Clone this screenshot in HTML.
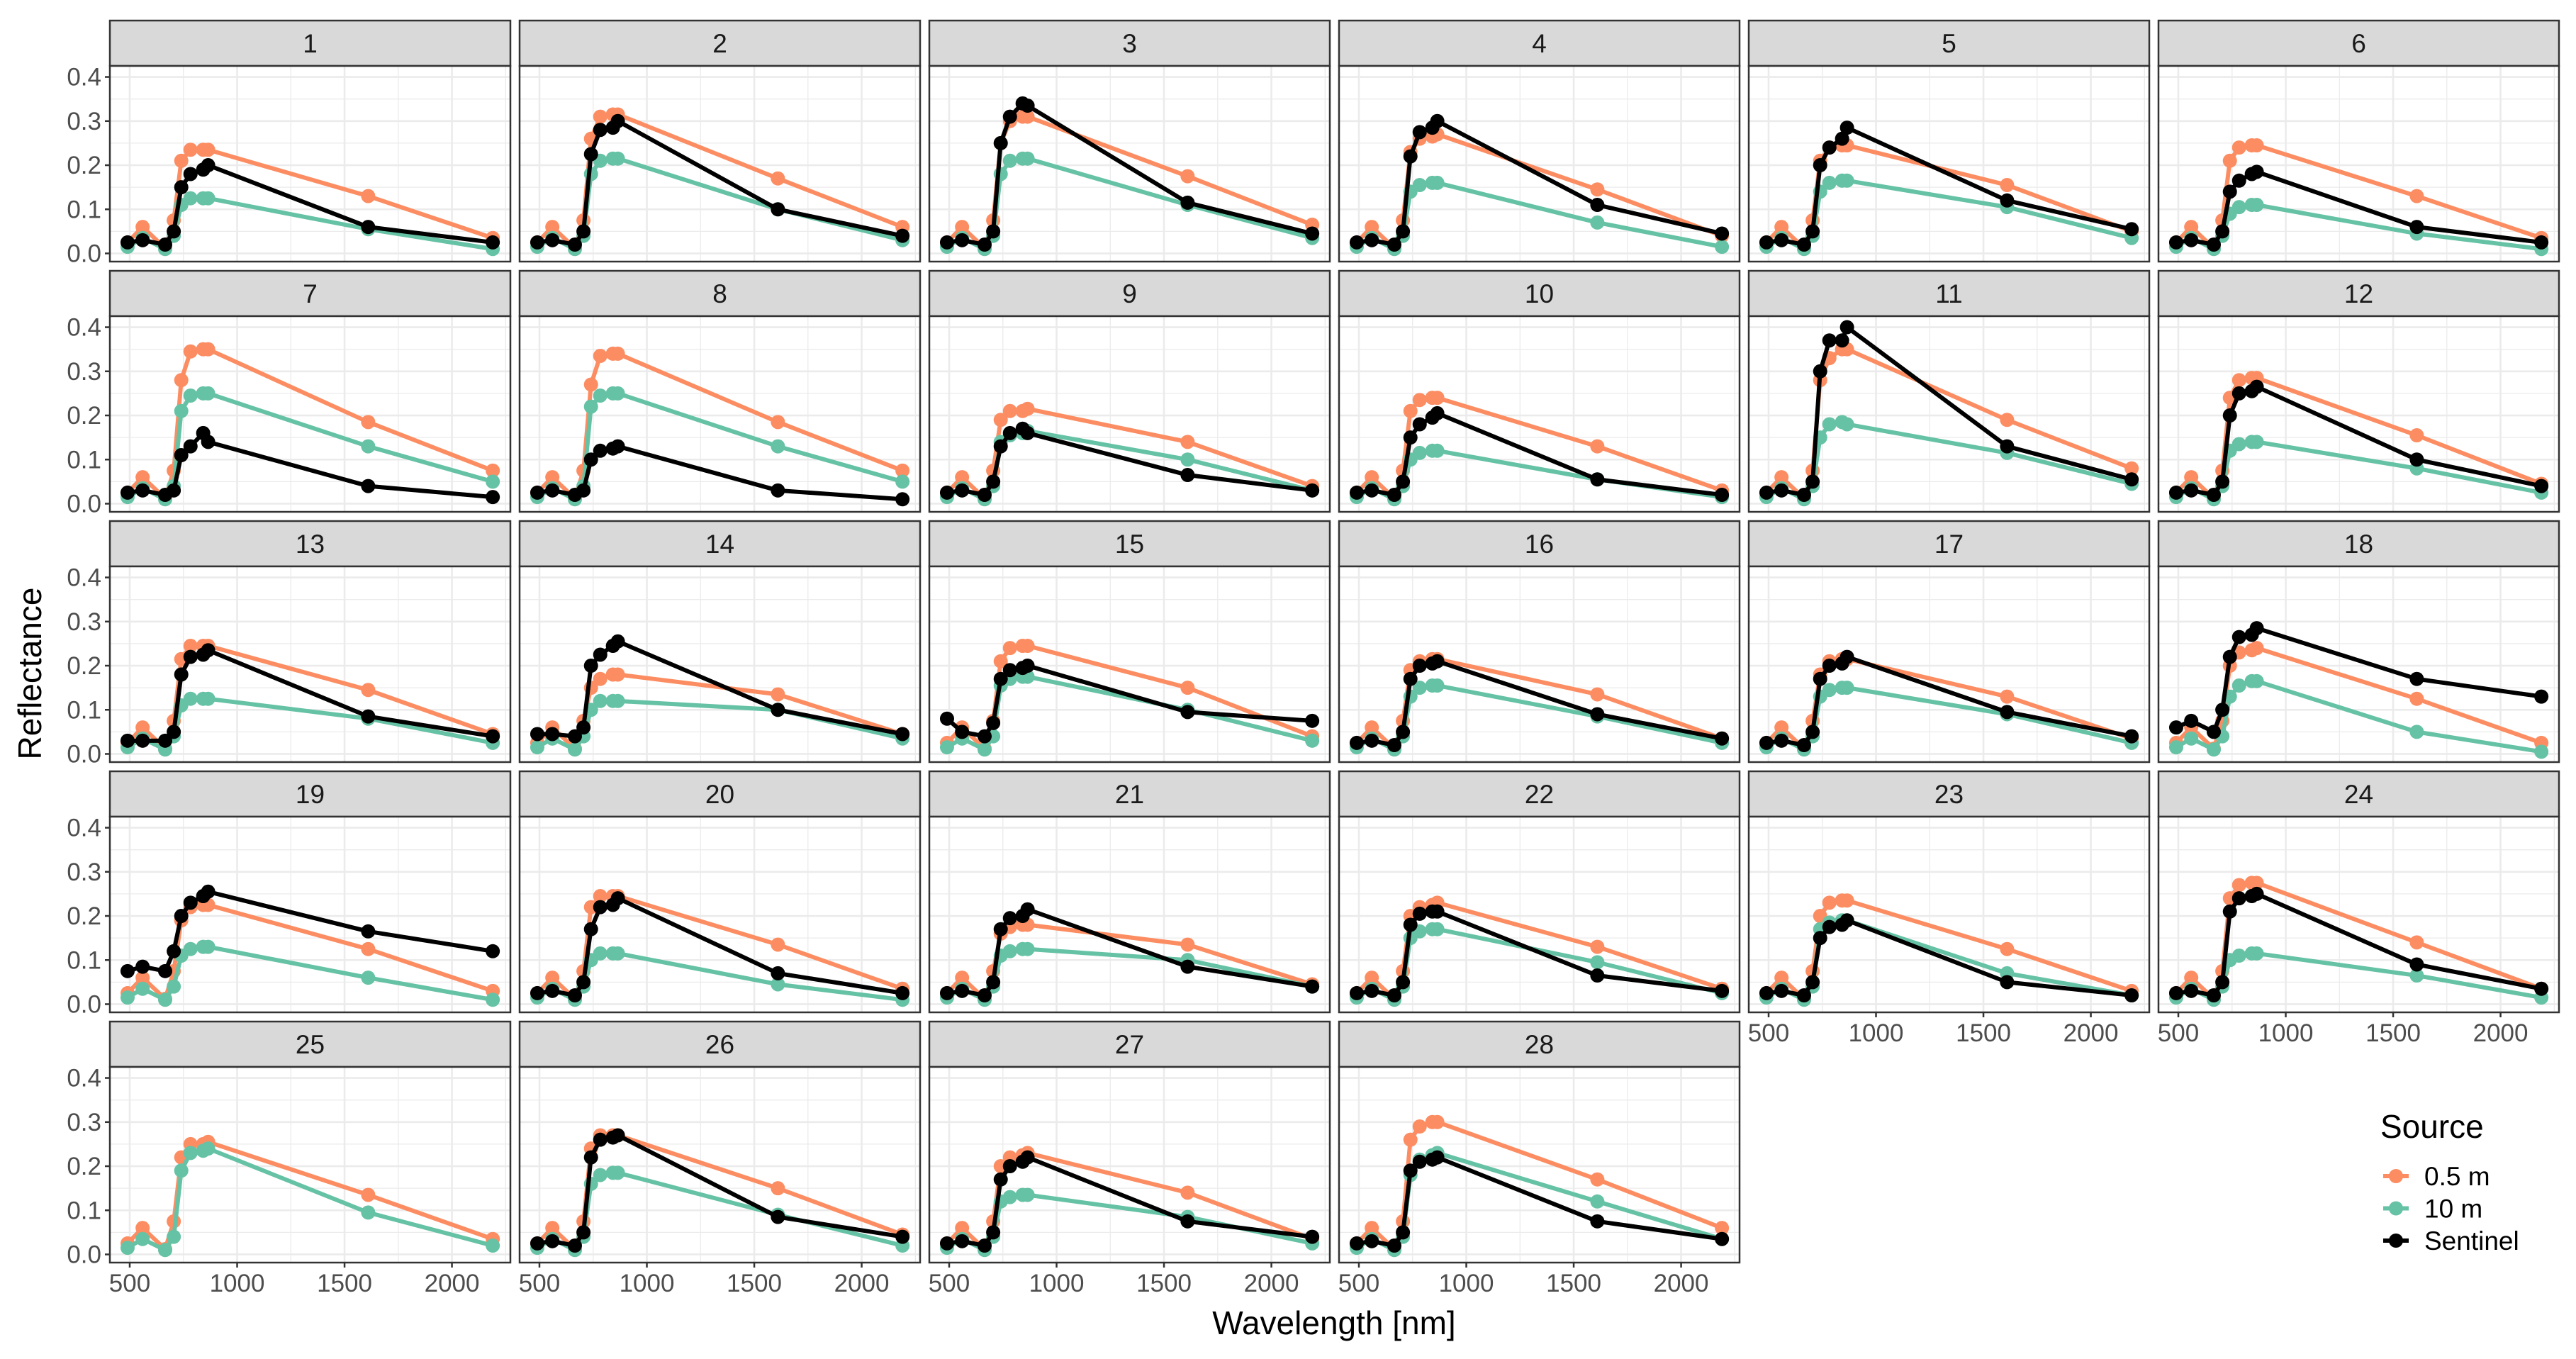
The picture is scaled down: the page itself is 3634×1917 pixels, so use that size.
<!DOCTYPE html>
<html><head><meta charset="utf-8"><style>
html,body{margin:0;padding:0;background:#fff;}
svg{display:block;font-family:"Liberation Sans",sans-serif;}
</style></head><body>
<svg id="chart" width="3634" height="1917" viewBox="0 0 3634 1917" xmlns="http://www.w3.org/2000/svg"></svg>
<script>
const wavelengths=[490,560,665,705,740,783,842,865,1610,2190];
const panelIds=[1,2,3,4,5,6,7,8,9,10,11,12,13,14,15,16,17,18,19,20,21,22,23,24,25,26,27,28];
const seriesNames=["0.5 m","10 m","Sentinel"];
const xTicks=[500,1000,1500,2000];
const yTicks=[0,0.1,0.2,0.3,0.4];
const yTickLabels=["0.0","0.1","0.2","0.3","0.4"];
const orange=[
[.025,.06,.012,.075,.21,.235,.235,.235,.13,.035],
[.025,.06,.012,.075,.26,.31,.315,.315,.17,.06],
[.025,.06,.012,.075,.25,.30,.31,.31,.175,.065],
[.025,.06,.012,.075,.23,.26,.265,.27,.145,.04],
[.025,.06,.012,.075,.21,.24,.245,.245,.155,.05],
[.025,.06,.012,.075,.21,.24,.245,.245,.13,.035],
[.025,.06,.012,.075,.28,.345,.35,.35,.185,.075],
[.025,.06,.012,.075,.27,.335,.34,.34,.185,.075],
[.025,.06,.012,.075,.19,.21,.21,.215,.14,.04],
[.025,.06,.012,.075,.21,.235,.24,.24,.13,.03],
[.025,.06,.012,.075,.28,.33,.35,.35,.19,.08],
[.025,.06,.012,.075,.24,.28,.285,.285,.155,.045],
[.025,.06,.012,.075,.215,.245,.245,.245,.145,.045],
[.025,.06,.012,.075,.15,.17,.18,.18,.135,.045],
[.025,.06,.012,.075,.21,.24,.245,.245,.15,.04],
[.025,.06,.012,.075,.19,.21,.215,.215,.135,.035],
[.025,.06,.012,.075,.18,.21,.215,.215,.13,.035],
[.025,.06,.012,.075,.20,.23,.235,.24,.125,.025],
[.025,.06,.012,.075,.19,.22,.225,.225,.125,.03],
[.025,.06,.012,.075,.22,.245,.245,.245,.135,.035],
[.025,.06,.012,.075,.16,.175,.18,.18,.135,.045],
[.025,.06,.012,.075,.20,.22,.225,.23,.13,.035],
[.025,.06,.012,.075,.20,.23,.235,.235,.125,.03],
[.025,.06,.012,.075,.24,.27,.275,.275,.14,.035],
[.025,.06,.012,.075,.22,.25,.25,.255,.135,.035],
[.025,.06,.012,.075,.24,.27,.27,.27,.15,.045],
[.025,.06,.012,.075,.20,.22,.225,.23,.14,.035],
[.025,.06,.012,.075,.26,.29,.30,.30,.17,.06]];
const teal=[
[.015,.035,.01,.04,.11,.125,.125,.125,.055,.01],
[.015,.035,.01,.04,.18,.21,.215,.215,.10,.03],
[.015,.035,.01,.04,.18,.21,.215,.215,.11,.035],
[.015,.035,.01,.04,.14,.155,.16,.16,.07,.015],
[.015,.035,.01,.04,.14,.16,.165,.165,.105,.035],
[.015,.035,.01,.04,.09,.105,.11,.11,.045,.01],
[.015,.035,.01,.04,.21,.245,.25,.25,.13,.05],
[.015,.035,.01,.04,.22,.245,.25,.25,.13,.05],
[.015,.035,.01,.04,.14,.155,.16,.165,.10,.03],
[.015,.035,.01,.04,.10,.115,.12,.12,.055,.015],
[.015,.035,.01,.04,.15,.18,.185,.18,.115,.045],
[.015,.035,.01,.04,.12,.135,.14,.14,.08,.025],
[.015,.035,.01,.04,.11,.125,.125,.125,.08,.025],
[.015,.035,.01,.04,.10,.12,.12,.12,.10,.035],
[.015,.035,.01,.04,.155,.17,.175,.175,.10,.03],
[.015,.035,.01,.04,.13,.15,.155,.155,.085,.025],
[.015,.035,.01,.04,.13,.145,.15,.15,.09,.025],
[.015,.035,.01,.04,.13,.155,.165,.165,.05,.005],
[.015,.035,.01,.04,.11,.125,.13,.13,.06,.01],
[.015,.035,.01,.04,.10,.115,.115,.115,.045,.01],
[.015,.035,.01,.04,.11,.12,.125,.125,.10,.04],
[.015,.035,.01,.04,.15,.165,.17,.17,.095,.025],
[.015,.035,.01,.04,.17,.185,.19,.19,.07,.02],
[.015,.035,.01,.04,.10,.11,.115,.115,.065,.015],
[.015,.035,.01,.04,.19,.23,.235,.24,.095,.02],
[.015,.035,.01,.04,.16,.18,.185,.185,.09,.02],
[.015,.035,.01,.04,.12,.13,.135,.135,.085,.025],
[.015,.035,.01,.04,.18,.215,.225,.23,.12,.035]];
const black=[
[.025,.03,.02,.05,.15,.18,.19,.20,.06,.025],
[.025,.03,.02,.05,.225,.28,.285,.30,.10,.04],
[.025,.03,.02,.05,.25,.31,.34,.335,.115,.045],
[.025,.03,.02,.05,.22,.275,.285,.30,.11,.045],
[.025,.03,.02,.05,.20,.24,.26,.285,.12,.055],
[.025,.03,.02,.05,.14,.165,.18,.185,.06,.025],
[.025,.03,.02,.03,.11,.13,.16,.14,.04,.015],
[.025,.03,.02,.03,.10,.12,.125,.13,.03,.01],
[.025,.03,.02,.05,.13,.16,.17,.16,.065,.03],
[.025,.03,.02,.05,.15,.18,.195,.205,.055,.02],
[.025,.03,.02,.05,.30,.37,.37,.40,.13,.055],
[.025,.03,.02,.05,.20,.25,.255,.265,.10,.04],
[.03,.03,.03,.05,.18,.22,.225,.235,.085,.04],
[.045,.045,.04,.06,.20,.225,.245,.255,.10,.045],
[.08,.05,.04,.07,.17,.19,.195,.20,.095,.075],
[.025,.03,.02,.05,.17,.20,.205,.21,.09,.035],
[.025,.03,.02,.05,.17,.20,.205,.22,.095,.04],
[.06,.075,.05,.10,.22,.265,.27,.285,.17,.13],
[.075,.085,.075,.12,.20,.23,.245,.255,.165,.12],
[.025,.03,.02,.05,.17,.22,.225,.24,.07,.025],
[.025,.03,.02,.05,.17,.195,.20,.215,.085,.04],
[.025,.03,.02,.05,.18,.205,.21,.21,.065,.03],
[.025,.03,.02,.05,.15,.175,.18,.19,.05,.02],
[.025,.03,.02,.05,.21,.24,.245,.25,.09,.035],
null,
[.025,.03,.02,.05,.22,.26,.265,.27,.085,.04],
[.025,.03,.02,.05,.17,.20,.21,.22,.075,.04],
[.025,.03,.02,.05,.19,.21,.215,.22,.075,.035]];

const NS="http://www.w3.org/2000/svg";
const svg=document.getElementById('chart');
function mk(tag,attrs,parent){const e=document.createElementNS(NS,tag);for(const k in attrs)e.setAttribute(k,attrs[k]);(parent||svg).appendChild(e);return e;}
const colL=155,colStep=578,pw=565,rowTop=29,rowStep=353,stripH=64,ph=276;
const xMin=407.6,xMax=2272,yMin=-0.0185,yMax=0.425;
const colors=["#FC8D62","#66C2A5","#000000"];
for(let i=0;i<panelIds.length;i++){
  const c=i%6,r=Math.floor(i/6);
  const x0=colL+c*colStep,sy=rowTop+r*rowStep,y0=sy+stripH;
  const sx=v=>x0+(v-xMin)/(xMax-xMin)*pw;
  const syf=v=>y0+ph-(v-yMin)/(yMax-yMin)*ph;
  const g=mk('g',{});
  
  
  const strip=mk('rect',{x:x0,y:sy,width:pw,height:stripH,fill:'#D9D9D9',stroke:'#333',"stroke-width":2.5},g);
  
  
  const st=mk('text',{x:x0+pw/2,y:sy+stripH/2+13,"text-anchor":"middle","font-size":37,fill:'#1A1A1A'},g);
  st.textContent=panelIds[i];
  
  
  mk('rect',{x:x0,y:y0,width:pw,height:ph,fill:'#fff'},g);
  for(let v=250;v<=2250;v+=250){const X=sx(v);if(X>x0&&X<x0+pw)mk('line',{x1:X,x2:X,y1:y0,y2:y0+ph,stroke:'#EBEBEB',"stroke-width":v%500===0?2.6:1.3},g);}
  for(let k=0;k<=8;k++){const v=k*0.05;const Y=syf(v);mk('line',{x1:x0,x2:x0+pw,y1:Y,y2:Y,stroke:'#EBEBEB',"stroke-width":k%2===0?2.6:1.3},g);}
  const sets=[orange[i],teal[i],black[i]];
  sets.forEach((vals,si)=>{
    if(!vals)return;
    const pts=vals.map((v,j)=>sx(wavelengths[j])+','+syf(v)).join(' ');
    const pl=mk('polyline',{points:pts,fill:'none',stroke:colors[si],"stroke-width":6,"stroke-linejoin":"round"},g);
    
    
    vals.forEach((v,j)=>{
      const p=mk('circle',{cx:sx(wavelengths[j]),cy:syf(v),r:10,fill:colors[si]},g);
      
      
    });
  });
  mk('rect',{x:x0,y:y0,width:pw,height:ph,fill:'none',stroke:'#333',"stroke-width":2.5},g);
  if(c===0){
    yTicks.forEach((v,k)=>{const Y=syf(v);mk('line',{x1:x0-7,x2:x0,y1:Y,y2:Y,stroke:'#333',"stroke-width":2.5},g);
      const t=mk('text',{x:x0-12,y:Y+12,"text-anchor":"end","font-size":35,fill:'#4D4D4D'},g);t.textContent=yTickLabels[k];
      
      });
  }
  const bottom=(r===4)||(r===3&&c>=4);
  if(bottom){
    xTicks.forEach(v=>{const X=sx(v);mk('line',{x1:X,x2:X,y1:y0+ph,y2:y0+ph+7,stroke:'#333',"stroke-width":2.5},g);
      const t=mk('text',{x:X,y:y0+ph+41,"text-anchor":"middle","font-size":35,fill:'#4D4D4D'},g);t.textContent=v;
      
      });
  }
}
const yt=mk('text',{x:0,y:0,transform:'translate(58,950) rotate(-90)',"text-anchor":"middle","font-size":46,fill:'#000'});
yt.textContent='Reflectance';


const xt=mk('text',{x:1882,y:1882,"text-anchor":"middle","font-size":46,fill:'#000'});
xt.textContent='Wavelength [nm]';


const lg=mk('g',{});


const lt=mk('text',{x:3358,y:1605,"font-size":46,fill:'#000'},lg);
lt.textContent='Source';


seriesNames.forEach((n,k)=>{
  const Y=1659+k*45.5;
  const e=mk('g',{},lg);
  
  
  mk('line',{x1:3362,x2:3398,y1:Y,y2:Y,stroke:colors[k],"stroke-width":6},e);
  mk('circle',{cx:3380,cy:Y,r:10,fill:colors[k]},e);
  const t=mk('text',{x:3420,y:Y+13,"font-size":37,fill:'#000'},e);t.textContent=n;
});
</script>
</body></html>
